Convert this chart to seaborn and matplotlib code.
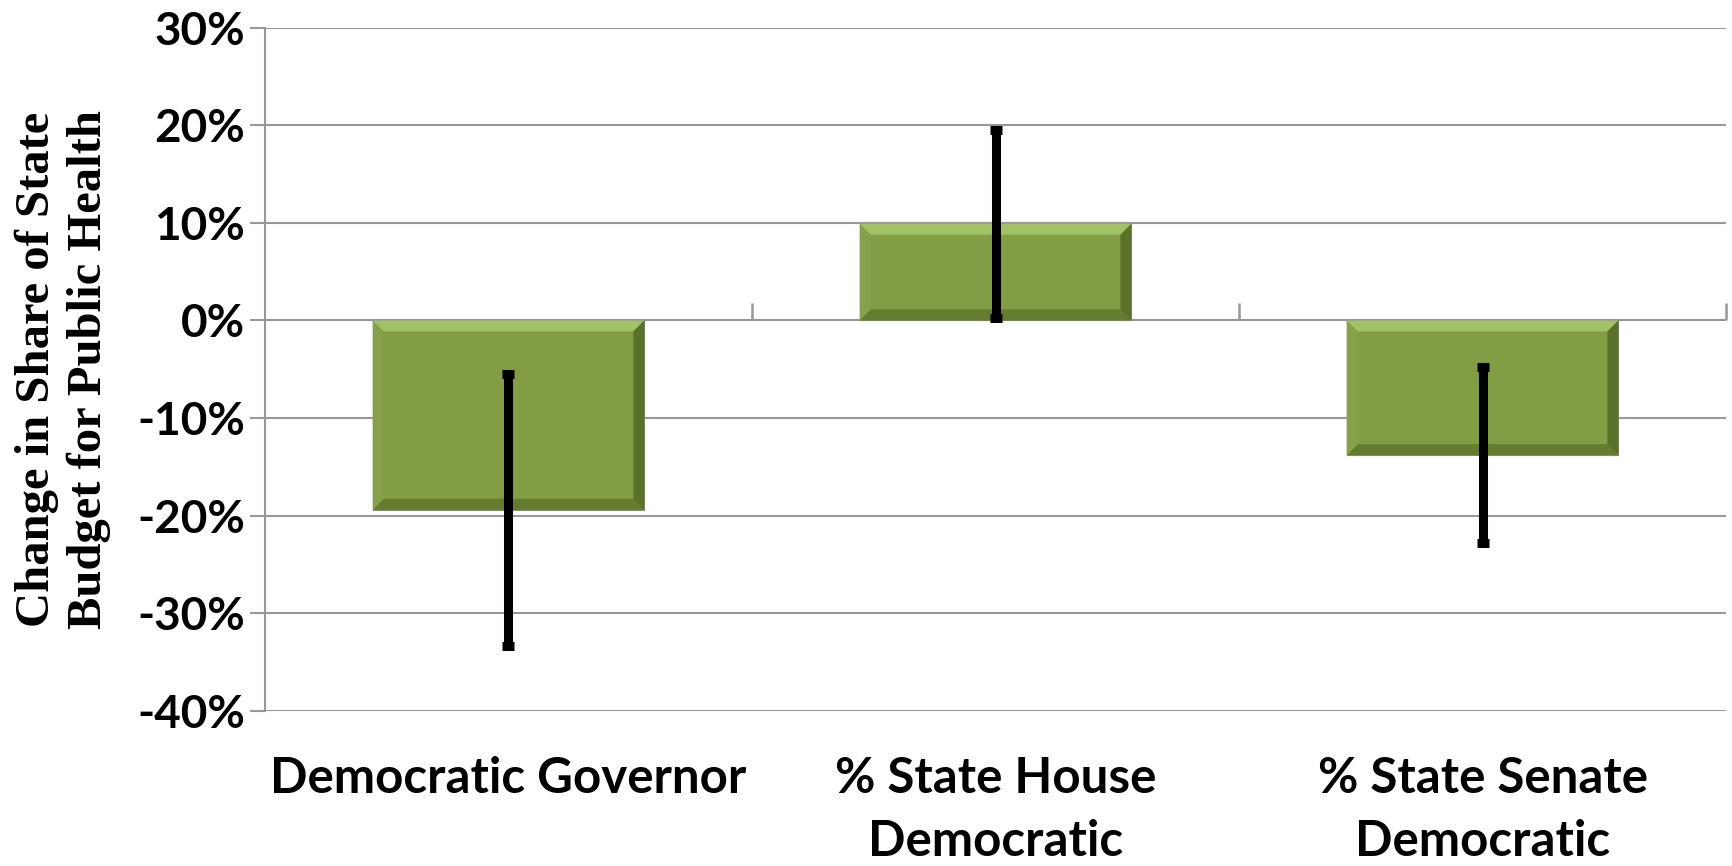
import matplotlib
matplotlib.use("Agg")
import matplotlib.pyplot as plt
import seaborn as sns
import numpy as np
import pandas as pd
from matplotlib.ticker import PercentFormatter, FixedLocator
from matplotlib.patches import Polygon
from matplotlib.transforms import IdentityTransform

# ---- data ----
categories = ["Democratic Governor", "% State House\nDemocratic", "% State Senate\nDemocratic"]
effects = [-0.194, 0.099, -0.138]
errors = [0.139, 0.096, 0.090]
ytick_values = [-0.4, -0.3, -0.2, -0.1, 0.0, 0.1, 0.2, 0.3]
ylabel_text = "Change in Share of State\nBudget for Public Health"

sns.set_theme(style="white")
plt.rcParams["font.family"] = ["Lato", "DejaVu Sans"]
plt.rcParams["axes.unicode_minus"] = False

BAR = "#829D44"
GRID = "#979797"

fig = plt.figure(figsize=(17.32, 8.66), dpi=100)
ax = fig.add_axes([0.1530, 0.17898, 0.84354, 0.78926])

df = pd.DataFrame({"cat": categories, "val": effects})
sns.barplot(data=df, x="cat", y="val", color=BAR, saturation=1, width=0.558,
            errorbar=None, ax=ax, edgecolor="#8a8f80", linewidth=0.8, zorder=2)

ax.set_ylim(-0.4, 0.3)
ax.set_xlim(-0.5, len(categories) - 0.5)
ax.yaxis.set_major_locator(FixedLocator(ytick_values))
ax.yaxis.set_major_formatter(PercentFormatter(xmax=1, decimals=0))

# gridlines
ax.set_axisbelow(True)
ax.grid(axis="y", color=GRID, linewidth=1.5)
ax.grid(axis="x", visible=False)
for s in ["top", "right", "bottom"]:
    ax.spines[s].set_visible(False)
ax.spines["left"].set_color(GRID)
ax.spines["left"].set_linewidth(1.5)

ax.tick_params(axis="y", which="major", left=True, length=11, width=1.5, color=GRID,
               pad=3.5, labelsize=33, labelcolor="black")
for t in ax.get_yticklabels():
    t.set_fontweight("bold")
ax.tick_params(axis="x", bottom=False, length=0, pad=32.5, labelsize=35.5, labelcolor="black")
for t in ax.get_xticklabels():
    t.set_fontweight("bold")
    t.set_linespacing(1.47)

ax.set_xlabel("")
ax.set_ylabel(ylabel_text, fontsize=35, fontweight="bold",
              fontfamily=["Liberation Serif", "DejaVu Serif"], linespacing=1.22, color="black")
ax.yaxis.set_label_coords(-0.1054, 0.5)

# x axis at zero with boundary ticks
y0, y1 = ax.get_ylim()
sec = ax.secondary_xaxis((0 - y0) / (y1 - y0))
sec.set_xticks(np.arange(len(categories)) + 0.5)
sec.set_xticklabels([])
sec.tick_params(axis="x", direction="out", length=12, width=1.8, color=GRID)
sec.spines["bottom"].set_color(GRID)
sec.spines["bottom"].set_linewidth(1.5)
sec.spines["top"].set_visible(False)

# bevel effect on bars
fig.canvas.draw()
bev = 11
for p in ax.patches:
    bb = p.get_window_extent()
    x0, x1, yb, yt = bb.x0, bb.x1, bb.y0, bb.y1
    polys = [
        ([(x0, yt), (x1, yt), (x1 - bev, yt - bev), (x0 + bev, yt - bev)], "#A7C669"),
        ([(x0, yb), (x1, yb), (x1 - bev, yb + bev), (x0 + bev, yb + bev)], "#62792E"),
        ([(x0, yb), (x0, yt), (x0 + bev, yt - bev), (x0 + bev, yb + bev)], "#87A24A"),
        ([(x1, yb), (x1, yt), (x1 - bev, yt - bev), (x1 - bev, yb + bev)], "#566B29"),
    ]
    for pts, c in polys:
        ax.add_patch(Polygon(pts, closed=True, facecolor=c, edgecolor="none",
                             transform=IdentityTransform(), zorder=2.5, alpha=0.9))

# error bars
ax.errorbar(np.arange(len(categories)), effects, yerr=errors, fmt="none",
            ecolor="black", elinewidth=6.5, capsize=4.3, capthick=6.5, zorder=4)

fig.savefig("out.png", dpi=100)
